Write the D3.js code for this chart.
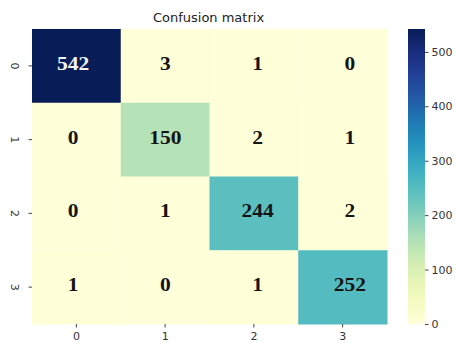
<!DOCTYPE html>
<html>
<head>
<meta charset="utf-8">
<script src="https://cdn.jsdelivr.net/npm/d3@7"></script>
<style>
  html, body { margin: 0; padding: 0; background: #fff; }
  svg { display: block; }
</style>
</head>
<body>
<svg id="chart" width="456" height="343"></svg>
<script>
// Confusion matrix counts: rows = true class, columns = predicted class
const classes = ["0", "1", "2", "3"];
const matrix = [
  [542, 3, 1, 0],
  [0, 150, 2, 1],
  [0, 1, 244, 2],
  [1, 0, 1, 252]
];
const colorbarTicks = [0, 100, 200, 300, 400, 500];
const title = "Confusion matrix";

const svg = d3.select("#chart");
const plotLeft = 32, plotTop = 29, plotRight = 387, plotBottom = 324;

const x = d3.scaleBand().domain(classes).range([plotLeft, plotRight]);
const y = d3.scaleBand().domain(classes).range([plotTop, plotBottom]);
// annotation layer sits on a slightly wider grid than the cells
const xText = d3.scaleBand().domain(classes).range([27, 396]);
const maxVal = d3.max(matrix.flat());
const color = d3.scaleSequential(d3.interpolateYlGnBu).domain([0, maxVal]);

const cells = [];
matrix.forEach((row, i) => row.forEach((v, j) => cells.push({ r: classes[i], c: classes[j], v })));

// heatmap cells
svg.append("g").selectAll("rect").data(cells).join("rect")
  .attr("x", d => x(d.c))
  .attr("y", d => y(d.r))
  .attr("width", x.bandwidth() + 0.5)
  .attr("height", y.bandwidth() + 0.5)
  .attr("fill", d => color(d.v));

// annotations
svg.append("g").selectAll("text").data(cells).join("text")
  .attr("transform", d =>
    `translate(${xText(d.c) + xText.bandwidth() / 2},${y(d.r) + y.bandwidth() / 2 - 2.5}) scale(1.13,1)`)
  .attr("text-anchor", "middle")
  .attr("dominant-baseline", "central")
  .attr("font-family", "'Liberation Serif', 'Times New Roman', serif")
  .attr("font-weight", "bold")
  .attr("font-size", 19)
  .attr("fill", d => d.v > maxVal * 0.6 ? "#f4f4f4" : "#141414")
  .text(d => d.v);

// axes
const tickFont = g => g.selectAll("text")
  .attr("font-family", "'DejaVu Sans', sans-serif")
  .attr("font-size", 11)
  .attr("fill", "#333");

const xAxis = svg.append("g")
  .attr("transform", `translate(0,${plotBottom})`)
  .call(d3.axisBottom(x).tickSize(3.5).tickPadding(4.5));
xAxis.select(".domain").remove();
xAxis.selectAll("line").attr("stroke", "#444");
tickFont(xAxis);

const yAxis = svg.append("g")
  .attr("transform", `translate(${plotLeft},0)`)
  .call(d3.axisLeft(y).tickSize(3.5).tickPadding(3));
yAxis.select(".domain").remove();
yAxis.selectAll("line").attr("stroke", "#444");
tickFont(yAxis);
yAxis.selectAll("text")
  .attr("text-anchor", "middle")
  .attr("dy", null)
  .attr("dominant-baseline", "central")
  .attr("x", null)
  .attr("transform", "translate(-18,0) rotate(90)");

// title
svg.append("text")
  .attr("x", (plotLeft + plotRight) / 2 - 1)
  .attr("y", 21.5)
  .attr("text-anchor", "middle")
  .attr("font-family", "'DejaVu Sans', sans-serif")
  .attr("font-size", 13)
  .attr("fill", "#222")
  .text(title);

// colorbar
const cbX = 408, cbW = 17;
const cbScale = d3.scaleLinear().domain([0, maxVal]).range([plotBottom, plotTop]);
const defs = svg.append("defs");
const grad = defs.append("linearGradient")
  .attr("id", "cbgrad")
  .attr("x1", 0).attr("y1", 1).attr("x2", 0).attr("y2", 0);
d3.range(0, 1.0001, 0.05).forEach(t => {
  grad.append("stop").attr("offset", t).attr("stop-color", color(t * maxVal));
});
svg.append("rect")
  .attr("x", cbX).attr("y", plotTop)
  .attr("width", cbW).attr("height", plotBottom - plotTop)
  .attr("fill", "url(#cbgrad)");

const cbAxis = svg.append("g")
  .attr("transform", `translate(${cbX + cbW},0)`)
  .call(d3.axisRight(cbScale).tickValues(colorbarTicks).tickSize(3.5).tickPadding(3));
cbAxis.select(".domain").remove();
cbAxis.selectAll("line").attr("stroke", "#444");
tickFont(cbAxis);
</script>
</body>
</html>
